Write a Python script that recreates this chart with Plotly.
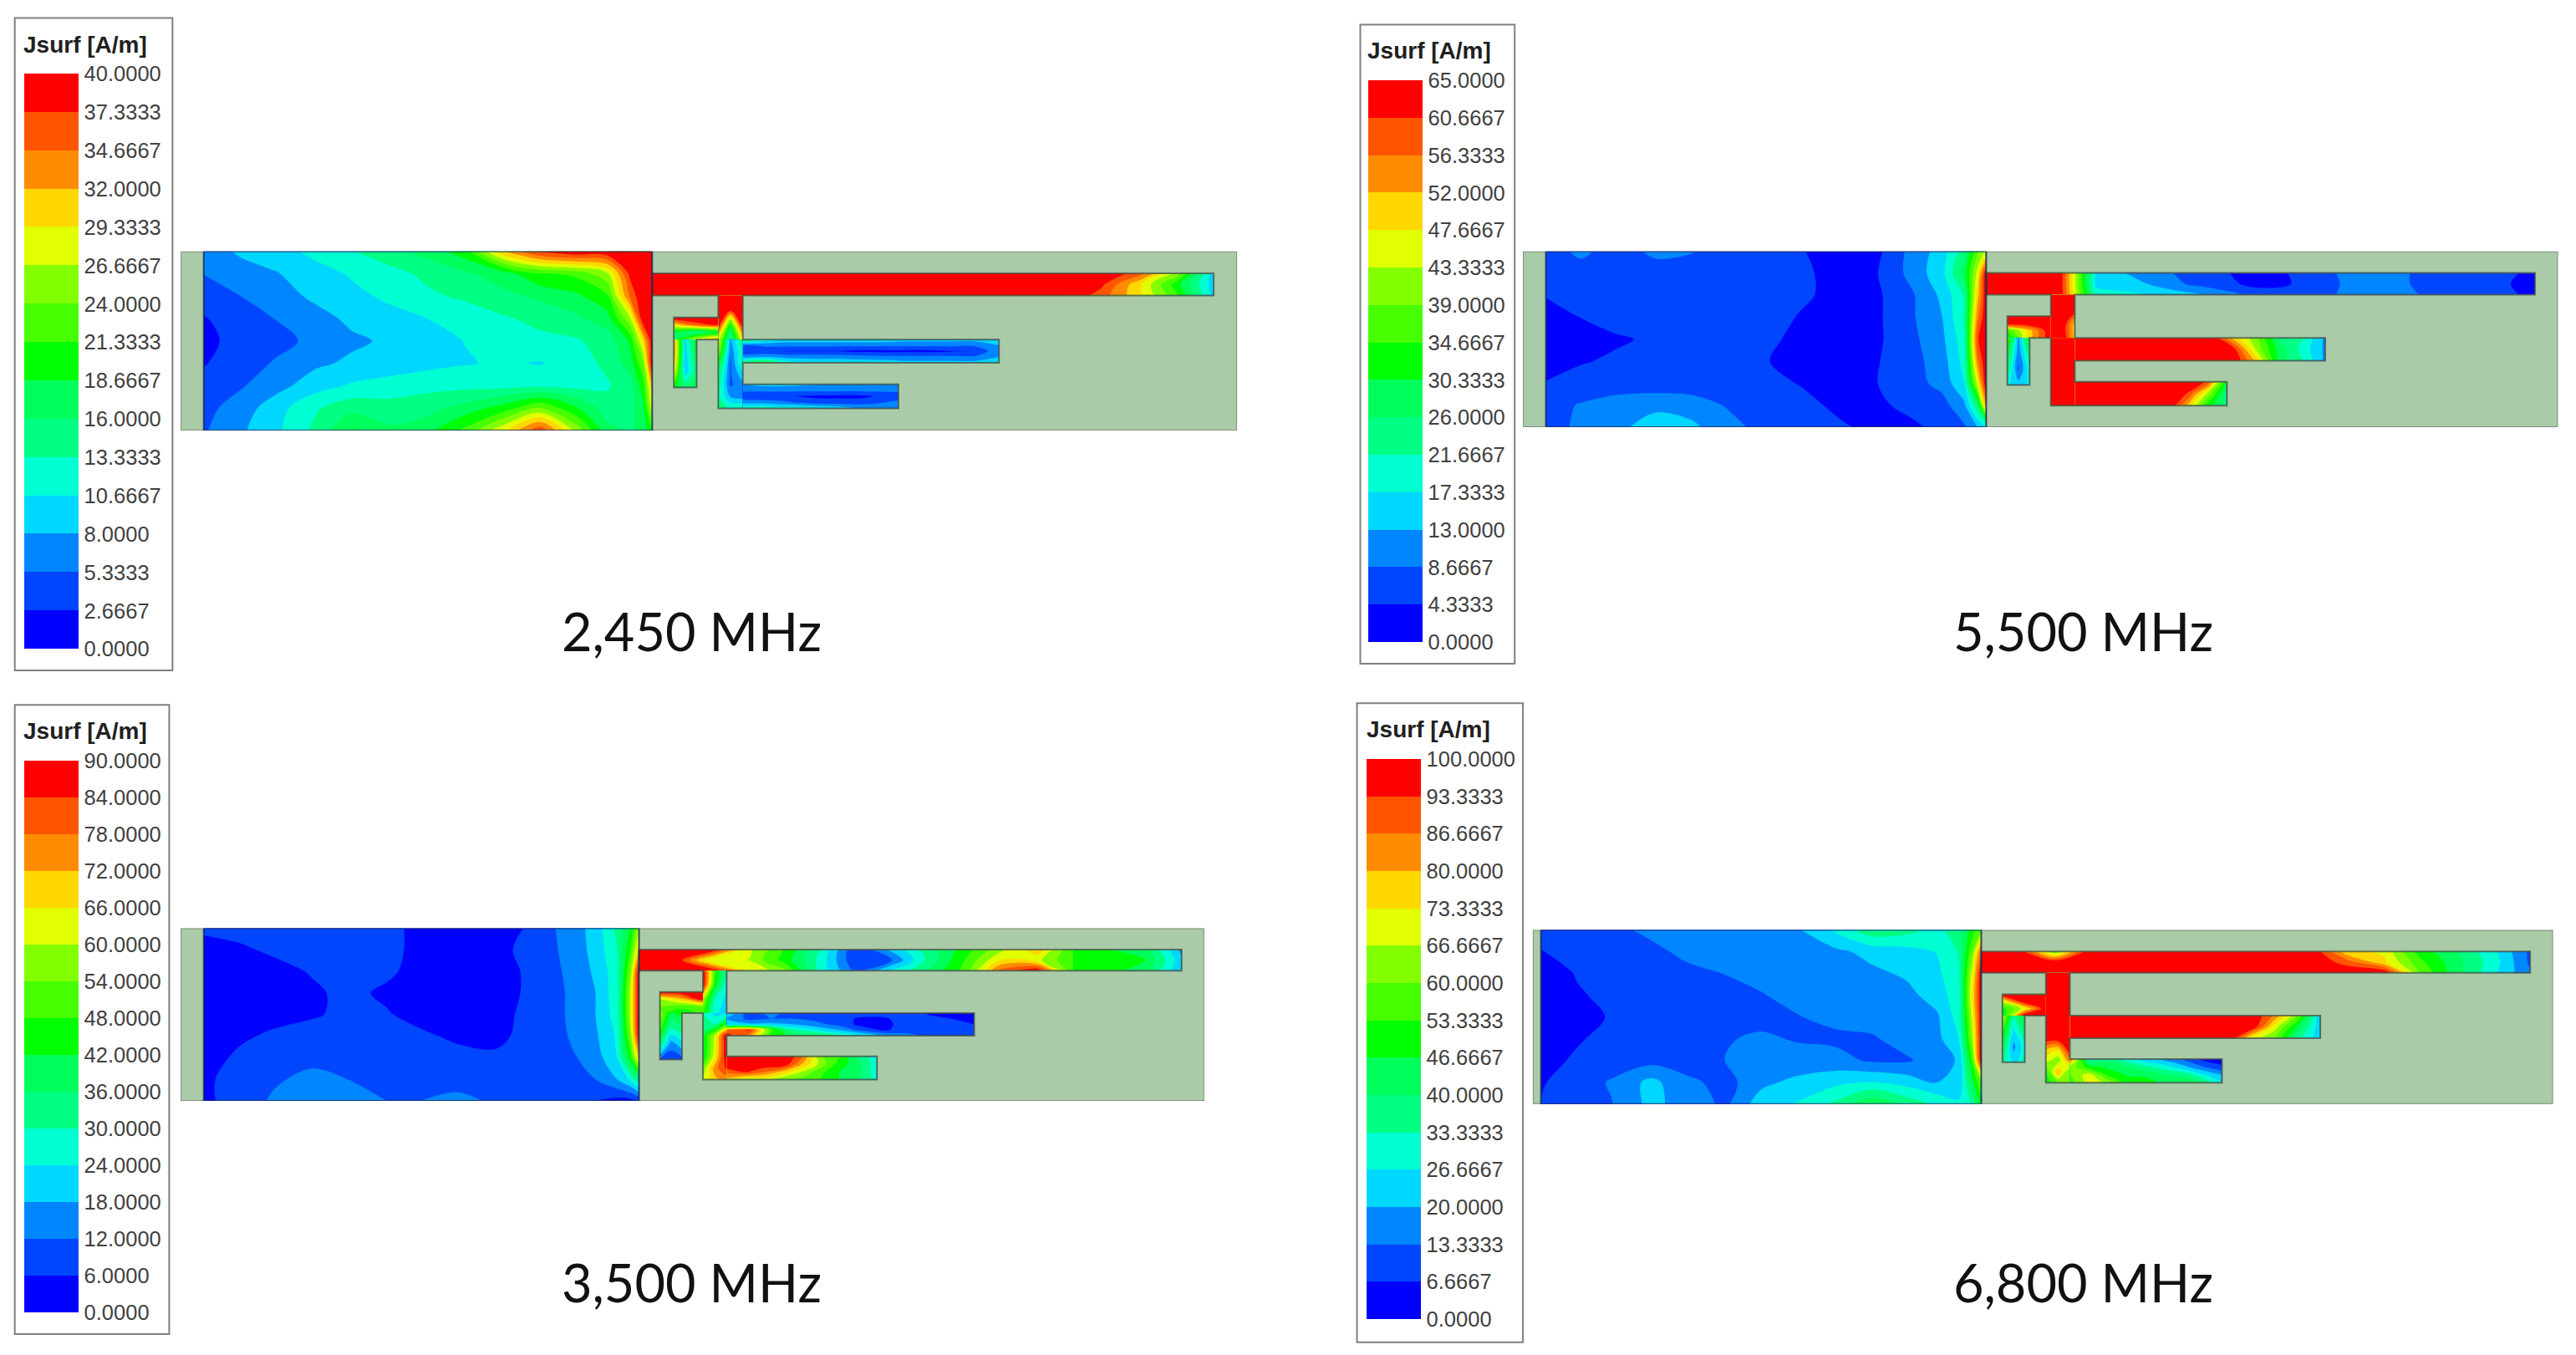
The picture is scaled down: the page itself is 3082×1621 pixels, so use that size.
import numpy as np
import plotly.graph_objects as go

W, H = 3082, 1621
S = 3082 / 1568.0

# ---------- tick labels ----------
ticks_2450 = ["0.0000","2.6667","5.3333","8.0000","10.6667","13.3333","16.0000","18.6667","21.3333","24.0000","26.6667","29.3333","32.0000","34.6667","37.3333","40.0000"]
ticks_5500 = ["0.0000","4.3333","8.6667","13.0000","17.3333","21.6667","26.0000","30.3333","34.6667","39.0000","43.3333","47.6667","52.0000","56.3333","60.6667","65.0000"]
ticks_3500 = ["0.0000","6.0000","12.0000","18.0000","24.0000","30.0000","36.0000","42.0000","48.0000","54.0000","60.0000","66.0000","72.0000","78.0000","84.0000","90.0000"]
ticks_6800 = ["0.0000","6.6667","13.3333","20.0000","26.6667","33.3333","40.0000","46.6667","53.3333","60.0000","66.6667","73.3333","80.0000","86.6667","93.3333","100.0000"]

band_colors = ["#0000FF","#0046FF","#0087FF","#00D7FF","#00FFD2","#00FF82","#00FF5A","#00FF00",
               "#46FF00","#82FF00","#E1FF00","#FFD700","#FF8C00","#FF5500","#FF0000"]

ground_cols = [0,.08,.16,.25,.33,.42,.5,.58,.67,.75,.83,.9,.95,.98,1]

# ---------- surface current (A/m) ----------
J2450_ground = [
 [6,8.5,9.5,11.5,13.2,15,17,20,32,38,40,40,40,40,40],
 [5.4,6.5,7.8,9.5,11,12.5,14,15.5,17.5,21,22,26,38,40,40],
 [4,5.3,6.7,8.6,9.8,11.4,12.8,13.8,15.3,16.5,18,21,35,40,40],
 [2.5,3.8,5.4,7,8.6,9.6,10.7,11.6,13,14.2,15.5,17.5,26,40,40],
 [2,3.5,4.5,6,7.5,8.5,9.5,10.7,11.5,12.5,13,14.5,19,30,40],
 [2.5,4,5.6,7.5,8.5,9.2,9.8,10.5,11,10.5,12,14,17,24,40],
 [3.5,5,7,9.5,11,11.8,12.5,12.5,12.5,12.8,12.5,13,15,20,32],
 [4.5,6.5,9.5,13,15,14.5,15,17,20,24,19,14.5,15,18,28],
 [5,7.5,10,14,19,16.5,18,22,29,37,26,17,15.5,17,21]]
J2450_strip1 = [[40,40,40,40,40,40,40,40,40,40,40,40,40,36,26,9],
                [40,40,40,40,40,40,40,40,40,40,40,40,38,30,20,9],
                [40,40,40,40,40,40,40,40,40,40,40,40,36,30,22,10]]
J2450_feed = [[40,40,40],[40,38,40],[40,20,40],[28,13,30]]
J2450_bar  = [[40,40,40],[30,36,38],[18,14,18],[18,28,34]]
J2450_leg  = [[34,10,20],[34,9,18],[30,9,16],[20,16,18]]
J2450_spine = [[30,8,16],[26,6,14],[20,5,14],[16,5,10],[15,5,7],[14,8,7],[15,13,14]]
J2450_strip2 = [[18,12,10,10,10,10,10,9,9,9,9,9],
                [5,6,6,6,6,6,6,6,6,6,6,8],
                [3,3,2.5,2.5,2.5,2,2,2,2,2.5,2.5,8],
                [7,8,7,7,7,6.5,6,6,6,6,6,8],
                [16,18,12,10,10,10,10,9,9,9,9,9]]
J2450_strip3 = [[8,9,9,8.5,8,7,7,7,7],
                [6,6,6,6,6,6,6,6,6],
                [3,3,3,2.5,2,2,2,3,4],
                [7,7,6,5,4,4,4,5,6],
                [13,13,12,12,11,10,8,8,8]]

J5500_ground = [
 [6,10,6,10,9,6,6,4.5,3,3,10,15,24,38,45],
 [6,6,6,6,6,6,6,5,3,4,10,16,28,45,65],
 [4.5,6,6,6,6,6,6,5,3,3.5,8,14,22,50,65],
 [3,4.4,6,6,6,6,6,4,3,3.5,8,13,22,55,65],
 [2,3,3.8,5,6,6,5,3.5,3,3.5,7.5,12,20,60,65],
 [3,4,5,6,6,6,4.5,3,3,4,7,11,19,55,65],
 [4.5,6,6,6,6,6,6,4,3,4.2,7,10,17,45,65],
 [7,9,11,12,11,8,6,6,3,3.5,5.5,7,12,25,55],
 [6,10,12,15,14,10,7,6,5,3,3.5,5.5,8,13,17]]
J5500_strip1 = [[65,65,65,17,12,9,6,3.5,3.5,7,10,11,7,6,6,3],
                [65,65,65,16,15,10,7,4,3.5,6,10,11,7,6,5,3],
                [65,65,65,20,18,16,13,9,6,7,10,12,8,7,6,3]]
J5500_feed = [[65,65,65],[65,65,65],[65,65,50],[65,65,50]]
J5500_bar  = [[65,65,65],[65,65,65],[35,50,65],[28,50,65]]
J5500_leg  = [[40,12,35],[30,10,25],[25,8,20],[18,15,18]]
J5500_spine = [[65,65,65],[65,65,65],[65,65,65],[65,65,65],[65,65,65],[65,65,65],[65,65,65]]
J5500_strip2 = [[65,65,65,65,65,65,65,50,40,25,22,12],
                [65,65,65,65,65,65,65,62,42,28,20,12],
                [65,65,65,65,65,65,65,65,50,28,22,12]]
J5500_strip3 = [[65,65,65,65,65,65,65,60,30],
                [65,65,65,65,65,65,60,42,24],
                [65,65,65,65,65,65,50,32,25]]

J3500_ground = [
 [7,8,8.5,9,9,8,4,4,4,6.5,14,20,32,42,60],
 [4,5,7,8.5,9,8,4,3,4,8,13,20,30,48,70],
 [3,3,4,6.5,8.5,7,4,3,3.5,7,12.5,19,28,55,90],
 [3,3,4,5,7.5,5,3.5,3,3.5,7,12,18,28,60,90],
 [4,3,4,5.5,7,6.5,4,3,3.5,8,12,18,27,60,90],
 [4.5,5,7,8,8.5,8,7,5,4.5,8,11.5,17,25,55,90],
 [3.5,7,8,10,9,9.5,9,8,7,9,10,15,24,45,70],
 [5,8,11,14,12,9,9,9,9,9,9,12,18,25,35],
 [5,8,13,17,17,12,12,14,11,8,8,6,4,4,7]]
J3500_strip1 = [[90,90,90,62,48,30,6,20,33,45,58,70,48,42,38,16],
                [90,90,60,60,46,28,6,12,32,48,66,62,48,45,42,20],
                [90,90,90,66,56,28,10,25,36,50,80,90,48,44,38,18]]
J3500_feed = [[90,50,30],[90,45,25],[60,30,22],[50,25,22]]
J3500_bar  = [[90,90,90],[60,70,90],[55,52,55],[50,42,50]]
J3500_leg  = [[60,40,45],[50,30,35],[35,15,22],[12,8,10]]
J3500_spine = [[30,22,24],[32,30,50],[40,60,90],[40,62,90],[42,65,90],[55,75,85],[60,70,75]]
J3500_strip2 = [[25,8,14,8,10,9,9,9,9,5,5,5],
                [18,10,12,12,10,8,5,5,9,8,6,6],
                [22,20,20,18,14,10,4,4,9,9,7,6],
                [80,85,50,30,24,18,10,5,9,9,8,8],
                [88,75,45,40,38,30,25,18,14,11,10,10]]
J3500_strip3 = [[90,90,90,90,80,55,48,35,25],
                [90,90,90,90,72,58,45,38,26],
                [80,85,78,70,60,50,42,38,26],
                [70,60,62,55,52,48,42,36,28]]

J6800_ground = [
 [8,10,12,14.5,15,15.5,16,19,28,38,36,31,38,50,60],
 [6.5,9,10,12,14.5,15.5,16,16,18.5,22,24,27,34,60,90],
 [3,7,9,10,12,13.5,15,16,17,18.5,21,25,33,70,100],
 [2,6,8,9,10,11,13,15,16,17,18,23,31,75,100],
 [2,3,7.5,9,9,10,12,13,15,16,17,19,30,70,100],
 [3,6,8.5,10,11,13,14,13,12,12.5,16,18,27,65,100],
 [4.5,7.5,10,11,10,13.5,14,15,15.5,12.5,12.5,16,21,55,100],
 [6,10,14,22,15,11,18,22,25,27,24,20,22,45,60],
 [7,9,13,22,17,12,24,27,35,46,38,32,28,34,50]]
J6800_strip1 = [[100,100,60,100,100,100,100,100,100,100,75,72,50,40,28,12],
                [100,100,100,100,100,100,100,100,100,100,90,75,55,42,30,12],
                [100,100,100,100,100,100,100,100,100,100,100,100,60,42,28,14]]
J6800_feed = [[100,100,100],[100,100,100],[100,100,100],[100,100,100]]
J6800_bar  = [[100,100,100],[70,100,100],[50,70,100],[45,100,100]]
J6800_leg  = [[70,35,50],[55,25,40],[45,18,30],[35,25,30]]
J6800_spine = [[100,100,100],[100,100,100],[100,100,100],[80,75,100],[70,62,85],[52,80,60],[50,60,62]]
J6800_strip2 = [[100,100,100,100,100,100,100,100,100,85,62,20],
                [100,100,100,100,100,100,100,100,100,70,45,22],
                [100,100,100,100,100,100,100,100,70,60,35,22]]
J6800_strip3 = [[90,30,38,30,22,18,12,5,3],
                [65,50,45,40,35,30,22,14,8],
                [60,70,52,46,46,40,38,28,20],
                [55,70,65,50,48,46,45,40,27]]

titles = ["2,450 MHz", "5,500 MHz", "3,500 MHz", "6,800 MHz"]
scale_max = [40, 65, 90, 100]

# ---------- layout (pixels of the reduced view, scaled by S) ----------
panel_boxes = [(110,753,153,262),(927,1557,153,260),(110,733,565,670),(933,1554,566,672)]
ground_left = [0.0218,0.0222,0.0225,0.008]
ground_right = [0.4463,0.4476,0.4478,0.4396]
legend_boxes = [(9,105,11,408),(828,922,15,404),(9,103,429,812),(826,927,428,817)]
bar_boxes = [(15,48,45,395),(833,866,49,391),(15,48,463,799),(832,865,462,803)]
legend_title_xy = [(52,27),(870,31),(52,445),(869.5,444)]
title_xy = [(421,384),(1268,384),(421,780),(1268,780)]

parts = {"strip1":(0,.96,.123,.246),"feed":(.113,.155,.246,.492),"bar":(.037,.113,.369,.492),
         "leg":(.037,.076,.492,.76),"spine":(.113,.155,.492,.877),"strip2":(.155,.593,.492,.622),
         "strip3":(.155,.421,.742,.877)}
outline_u = [0,.96,.96,.155,.155,.593,.593,.155,.155,.421,.421,.113,.113,.076,.076,.037,.037,.113,.113,0,0]
outline_v = [.123,.123,.246,.246,.492,.492,.622,.622,.742,.742,.877,.877,.492,.492,.76,.76,.369,.369,.246,.246,.123]

panel_data = [
 (ticks_2450,J2450_ground,J2450_strip1,J2450_feed,J2450_bar,J2450_leg,J2450_spine,J2450_strip2,J2450_strip3),
 (ticks_5500,J5500_ground,J5500_strip1,J5500_feed,J5500_bar,J5500_leg,J5500_spine,J5500_strip2,J5500_strip3),
 (ticks_3500,J3500_ground,J3500_strip1,J3500_feed,J3500_bar,J3500_leg,J3500_spine,J3500_strip2,J3500_strip3),
 (ticks_6800,J6800_ground,J6800_strip1,J6800_feed,J6800_bar,J6800_leg,J6800_spine,J6800_strip2,J6800_strip3),
]

# stops sit on the band centres, which is where plotly samples the scale
colorscale = [[0, band_colors[0]]] + [[(i+.5)/15, c] for i, c in enumerate(band_colors)] + [[1, band_colors[-1]]]

fig = go.Figure()
layout = {"shapes": []}
annotations = []
BOARD = "#A9CBA7"
EDGE = "rgba(70,80,70,0.75)"

for p in range(4):
    ax = "" if p == 0 else str(p+1)
    xa, ya = "x"+ax, "y"+ax
    x0,x1,y0,y1 = panel_boxes[p]
    layout["xaxis"+ax] = dict(domain=[x0*S/W, x1*S/W], range=[0,1], visible=False, anchor=ya, fixedrange=True)
    layout["yaxis"+ax] = dict(domain=[1-y1*S/H, 1-y0*S/H], range=[1,0], visible=False, anchor=xa, fixedrange=True)
    ticks, ground, s1, feed, bar, leg, spine, s2, s3 = panel_data[p]
    zmax = scale_max[p]; step = zmax/15
    gl, gr = ground_left[p], ground_right[p]
    common = dict(zmin=0, zmax=zmax, colorscale=colorscale, xaxis=xa, yaxis=ya, hoverinfo="skip",
                  line=dict(width=0), contours=dict(coloring="fill", showlines=False, start=0, end=zmax, size=step))
    layout["shapes"].append(dict(type="rect", xref=xa, yref=ya, x0=0, x1=1, y0=0, y1=1,
                                 fillcolor=BOARD, line=dict(color="#7F8F7F", width=2), layer="below"))
    bx0,bx1,by0,by1 = bar_boxes[p]
    lx0,lx1,ly0,ly1 = legend_boxes[p]
    layout["shapes"].append(dict(type="rect", xref="paper", yref="paper", x0=lx0*S/W, x1=lx1*S/W,
                                 y0=1-ly1*S/H, y1=1-ly0*S/H, fillcolor="white",
                                 line=dict(color="#808080", width=2), layer="below"))
    cb = dict(x=bx0*S/W, xanchor="left", xref="paper", y=1-by0*S/H, yanchor="top", yref="paper",
              thickness=(bx1-bx0)*S, thicknessmode="pixels",
              len=(by1-by0)*S, lenmode="pixels", xpad=0, ypad=0,
              outlinewidth=0, bgcolor="rgba(0,0,0,0)", borderwidth=0,
              tickmode="array", tickvals=[i*step for i in range(16)], ticktext=ticks,
              ticks="outside", ticklen=2, tickcolor="rgba(0,0,0,0)",
              tickfont=dict(family="Liberation Sans", size=25.5, color="#404040"))
    gz = np.array(ground, dtype=float)
    gx = [gl + c*(gr-gl) for c in ground_cols]
    gy = np.linspace(0, 1, gz.shape[0])
    fig.add_trace(go.Contour(z=gz, x=gx, y=gy, colorbar=cb, showscale=True, **common))
    for name, z in zip(["strip1","feed","bar","leg","spine","strip2","strip3"], [s1,feed,bar,leg,spine,s2,s3]):
        u0,u1,v0,v1 = parts[name]
        z = np.array(z, dtype=float)
        xs = gr + np.linspace(u0,u1,z.shape[1])*(1-gr)
        ys = np.linspace(v0,v1,z.shape[0])
        fig.add_trace(go.Contour(z=z, x=xs, y=ys, showscale=False, **common))
    fig.add_trace(go.Scatter(x=[gr+u*(1-gr) for u in outline_u], y=outline_v, mode="lines", xaxis=xa, yaxis=ya,
                             line=dict(color=EDGE, width=2), hoverinfo="skip", showlegend=False))
    fig.add_trace(go.Scatter(x=[gl,gr,gr,gl,gl], y=[0,0,1,1,0], mode="lines", xaxis=xa, yaxis=ya,
                             line=dict(color="rgba(20,40,90,0.8)", width=2), hoverinfo="skip", showlegend=False))
    lt = legend_title_xy[p]
    annotations.append(dict(text="Jsurf [A/m]", x=lt[0]*S/W, y=1-lt[1]*S/H, xref="paper", yref="paper", showarrow=False,
                            xanchor="center", yanchor="middle",
                            font=dict(family="Liberation Sans", size=28, color="#202020", weight=700)))
    tx, ty = title_xy[p]
    annotations.append(dict(text=titles[p], x=tx*S/W, y=1-ty*S/H, xref="paper", yref="paper", showarrow=False,
                            xanchor="center", yanchor="middle", font=dict(family="Lato", size=63, color="#111111")))

fig.update_layout(width=W, height=H, margin=dict(l=0,r=0,t=0,b=0), paper_bgcolor="white", plot_bgcolor="rgba(0,0,0,0)",
                  showlegend=False, annotations=annotations, **layout)
fig.write_html("out.html", config={"displayModeBar": False},
               post_script="document.body.style.margin='0';document.documentElement.style.overflow='hidden';")
